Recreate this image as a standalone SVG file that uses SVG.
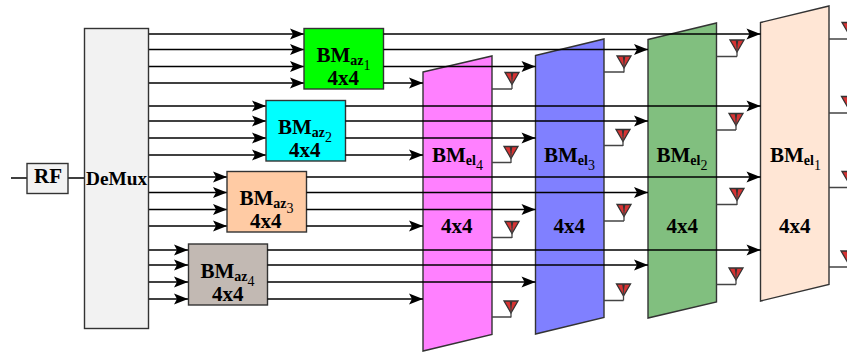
<svg xmlns="http://www.w3.org/2000/svg" width="847" height="354" viewBox="0 0 847 354">
<style>
.b{stroke:#333;stroke-width:1.4}
text{font-family:"Liberation Serif","Times New Roman",serif;font-weight:bold;font-size:21px;fill:#000}
.s{font-size:14px}
.ss{font-size:14px;font-weight:normal}
.w{fill:none;stroke:#000;stroke-width:1.3}
.a{fill:none;stroke:#444;stroke-width:1.3}
</style>
<defs>
<marker id="ah" markerUnits="userSpaceOnUse" markerWidth="15" markerHeight="12" refX="14" refY="6" orient="auto" overflow="visible">
<path d="M14,6 L0,0.6 L3,6 L0,11.4 Z" fill="#000"/>
</marker>
<g id="ant">
<path d="M-7,0.5 H7 L0,12.5 Z" fill="#d63333" stroke="#333" stroke-width="1.3"/>
<path d="M-1.3,1 H1.3 L0.4,7 H-0.4 Z" fill="#333"/>
<path d="M0,6 V17" stroke="#444" stroke-width="1.3" fill="none"/>
</g>
</defs>
<g id="connectors">
<g class="w">
<path d="M11,178 H27 M68,178 H84"/>
<path marker-end="url(#ah)" d="M148.5,34 H304"/>
<path marker-end="url(#ah)" d="M148.5,49.5 H304"/>
<path marker-end="url(#ah)" d="M148.5,66.5 H304"/>
<path marker-end="url(#ah)" d="M148.5,83 H304"/>
<path marker-end="url(#ah)" d="M148.5,106 H266"/>
<path marker-end="url(#ah)" d="M148.5,121 H266"/>
<path marker-end="url(#ah)" d="M148.5,138 H266"/>
<path marker-end="url(#ah)" d="M148.5,155 H266"/>
<path marker-end="url(#ah)" d="M148.5,177 H227"/>
<path marker-end="url(#ah)" d="M148.5,192.5 H227"/>
<path marker-end="url(#ah)" d="M148.5,209.5 H227"/>
<path marker-end="url(#ah)" d="M148.5,226 H227"/>
<path marker-end="url(#ah)" d="M148.5,250 H188"/>
<path marker-end="url(#ah)" d="M148.5,265 H188"/>
<path marker-end="url(#ah)" d="M148.5,282 H188"/>
<path marker-end="url(#ah)" d="M148.5,299 H188"/>
</g>
</g>
<g id="rf"><rect class="b" x="27" y="163.500" width="41" height="30" fill="#f2f2f2"/><text x="34" y="183">RF</text></g>
<g id="demux"><rect class="b" x="84.500" y="28.500" width="64" height="300" fill="#f2f2f2"/><text x="86" y="185" style="font-size:19.300px">DeMux</text></g>
<g id="bm-az1"><rect class="b" x="304" y="28.500" width="79.500" height="60.500" fill="#00ff00"/><text x="316.500" y="62">BM<tspan class="s" dy="3">az</tspan><tspan class="ss" dy="5">1</tspan></text><text x="327.500" y="85">4x4</text></g>
<g id="bm-az2"><rect class="b" x="266" y="100.500" width="79.500" height="60.500" fill="#00ffff"/><text x="278" y="134">BM<tspan class="s" dy="3">az</tspan><tspan class="ss" dy="5">2</tspan></text><text x="289" y="157">4x4</text></g>
<g id="bm-az3"><rect class="b" x="227" y="171.500" width="79.500" height="60.500" fill="#ffcba4"/><text x="239.500" y="205">BM<tspan class="s" dy="3">az</tspan><tspan class="ss" dy="5">3</tspan></text><text x="250" y="228">4x4</text></g>
<g id="bm-az4"><rect class="b" x="188.500" y="244" width="79" height="61" fill="#c2b9b3"/><text x="200.500" y="278">BM<tspan class="s" dy="3">az</tspan><tspan class="ss" dy="5">4</tspan></text><text x="212" y="301">4x4</text></g>
<g id="bm-el4"><path class="b" d="M423,72 L492,56 V334.500 L423,351 Z" fill="#ff80ff"/><text x="432" y="161.500">BM<tspan class="s" dy="3">el</tspan><tspan class="ss" dy="5">4</tspan></text><text x="441" y="232.500">4x4</text></g>
<g id="bm-el3"><path class="b" d="M535.500,55.500 L604,39 V317.500 L535.500,334 Z" fill="#8080ff"/><text x="544" y="161.500">BM<tspan class="s" dy="3">el</tspan><tspan class="ss" dy="5">3</tspan></text><text x="553.500" y="232.500">4x4</text></g>
<g id="bm-el2"><path class="b" d="M648,39.500 L716.500,23 V302 L648,318 Z" fill="#81bf7f"/><text x="656.500" y="161.500">BM<tspan class="s" dy="3">el</tspan><tspan class="ss" dy="5">2</tspan></text><text x="666.500" y="232.500">4x4</text></g>
<g id="bm-el1"><path class="b" d="M760.500,22.500 L829,6 V284.500 L760.500,301 Z" fill="#ffe6d5"/><text x="770" y="161.500">BM<tspan class="s" dy="3">el</tspan><tspan class="ss" dy="5">1</tspan></text><text x="779" y="232.500">4x4</text></g>
<g id="connectors-bm">
<g class="w">
<path marker-end="url(#ah)" d="M383.500,34 H760.500"/>
<path marker-end="url(#ah)" d="M383.500,49.500 H648"/>
<path marker-end="url(#ah)" d="M383.500,66.500 H535.500"/>
<path marker-end="url(#ah)" d="M383.500,83 H423"/>
<path marker-end="url(#ah)" d="M345.500,106 H760.500"/>
<path marker-end="url(#ah)" d="M345.500,121 H648"/>
<path marker-end="url(#ah)" d="M345.500,138 H535.500"/>
<path marker-end="url(#ah)" d="M345.500,155 H423"/>
<path marker-end="url(#ah)" d="M306.500,177 H760.500"/>
<path marker-end="url(#ah)" d="M306.500,192.500 H648"/>
<path marker-end="url(#ah)" d="M306.500,209.500 H535.500"/>
<path marker-end="url(#ah)" d="M306.500,226 H423"/>
<path marker-end="url(#ah)" d="M267.500,250 H760.500"/>
<path marker-end="url(#ah)" d="M267.500,265 H648"/>
<path marker-end="url(#ah)" d="M267.500,282 H535.500"/>
<path marker-end="url(#ah)" d="M267.500,299 H423"/>
</g>
<g class="a">
<path d="M492,89 H512 M492,162.500 H511 M492,237.500 H512 M492,317 H511"/>
<path d="M604,72 H624 M604,145.500 H623 M604,221 H624 M604,300.500 H623.500"/>
<path d="M716.500,56.500 H737 M716.500,130 H736 M716.500,204.500 H737 M716.500,284.500 H736"/>
<path d="M829,39 H847 M829,113 H847 M829,187.500 H847 M829,267 H847"/>
</g>
</g>
<g id="antennas">
<use href="#ant" x="512" y="72"/><use href="#ant" x="511" y="146"/><use href="#ant" x="512" y="221"/><use href="#ant" x="511" y="300.500"/>
<use href="#ant" x="624" y="55.500"/><use href="#ant" x="623" y="129"/><use href="#ant" x="624" y="204"/><use href="#ant" x="623.500" y="283.500"/>
<use href="#ant" x="737" y="39.500"/><use href="#ant" x="736" y="113"/><use href="#ant" x="737" y="188"/><use href="#ant" x="736" y="267.500"/>
<use href="#ant" x="849" y="22"/><use href="#ant" x="848.500" y="96"/><use href="#ant" x="849" y="171"/><use href="#ant" x="848" y="250.500"/>
</g>
</svg>
